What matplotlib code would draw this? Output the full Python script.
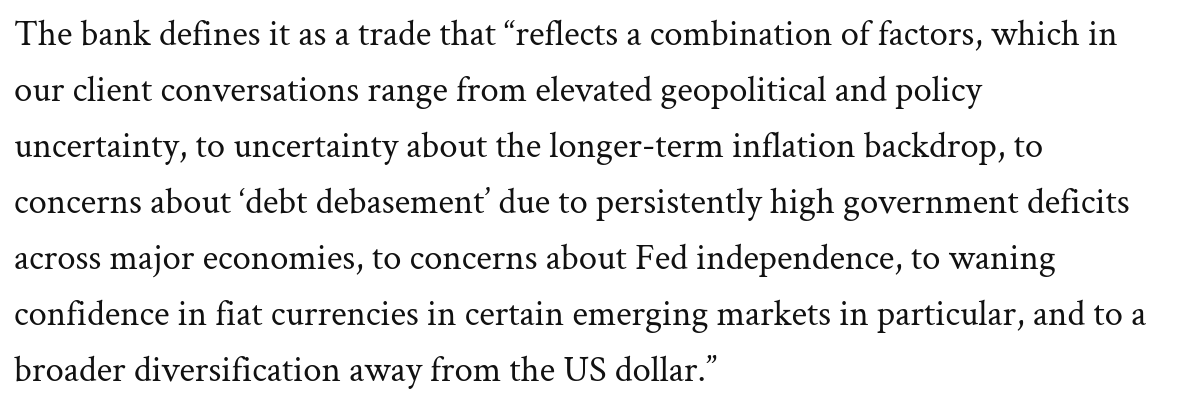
import matplotlib
matplotlib.use("Agg")
import matplotlib.pyplot as plt

lines = [
    "The bank defines it as a trade that \u201creflects a combination of factors, which in",
    "our client conversations range from elevated geopolitical and policy",
    "uncertainty, to uncertainty about the longer-term inflation backdrop, to",
    "concerns about \u2018debt debasement\u2019 due to persistently high government deficits",
    "across major economies, to concerns about Fed independence, to waning",
    "confidence in fiat currencies in certain emerging markets in particular, and to a",
    "broader diversification away from the US dollar.\u201d",
]

W, H = 1199, 416
fig = plt.figure(figsize=(W / 100, H / 100), dpi=100)
fig.patch.set_facecolor("white")

left_px = 14
first_base = 45
spacing = 56
fs = 24
family = ["Crimson Text", "Liberation Serif", "DejaVu Serif"]

texts = []
for i, s in enumerate(lines):
    t = fig.text(left_px / W, 1 - (first_base + i * spacing) / H, s,
                 fontsize=fs, family=family, color="#111111",
                 ha="left", va="baseline")
    texts.append(t)

# scale font so that line 6 spans to ~x=1150 as in the reference
fig.canvas.draw()
r = fig.canvas.get_renderer()
w6 = texts[5].get_window_extent(r).width
scale = (1150 - left_px) / w6
for t in texts:
    t.set_fontsize(fs * scale)

fig.savefig("out.png", dpi=100, facecolor="white")
